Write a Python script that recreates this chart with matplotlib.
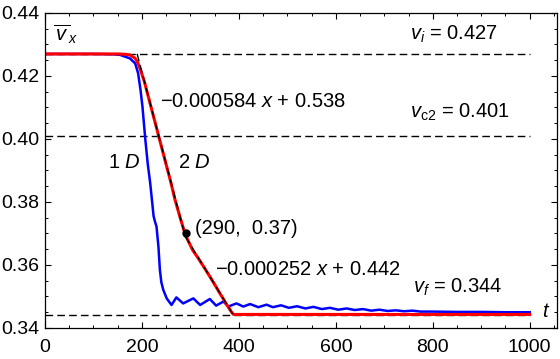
import numpy as np
import matplotlib
matplotlib.use("Agg")
import matplotlib.pyplot as plt
from matplotlib.ticker import MultipleLocator, FormatStrFormatter

plt.rcParams['font.family'] = ['Liberation Sans', 'DejaVu Sans']
plt.rcParams['mathtext.fontset'] = 'custom'
plt.rcParams['mathtext.rm'] = 'Liberation Sans'
plt.rcParams['mathtext.it'] = 'Liberation Sans:italic'
plt.rcParams['mathtext.bf'] = 'Liberation Sans:bold'

# 1D curve (blue)
t_1d = [0, 100, 140, 155, 175, 186, 192, 197, 201, 204, 207, 212, 217, 221, 224, 227,
        230, 234, 237, 240, 244, 251,
        261, 271, 285, 306, 320, 340, 353, 368, 378, 395, 409, 423, 440, 457, 470,
        487, 503, 520, 537, 554, 571, 588, 605, 622, 639, 656, 673, 690, 707, 724,
        741, 758, 775, 800, 850, 900, 950, 1000]
v_1d = [0.427, 0.427, 0.4269, 0.4267, 0.4256, 0.4240, 0.4209, 0.4156, 0.4103, 0.405,
        0.3997, 0.392, 0.386, 0.380, 0.3755, 0.3737, 0.3722, 0.3658, 0.3584, 0.3545,
        0.3521, 0.3494,
        0.3473, 0.3497, 0.3478, 0.3494, 0.3473, 0.3492, 0.3471, 0.3484, 0.3468, 0.3478,
        0.3468, 0.3476, 0.3466, 0.3474, 0.3466,
        0.3472, 0.3464, 0.3469, 0.3462, 0.3467, 0.3460, 0.3464, 0.3458, 0.3462, 0.3457,
        0.3460, 0.3455, 0.3458, 0.3454, 0.3456, 0.3453, 0.3455, 0.3452,
        0.3452, 0.3451, 0.3451, 0.3450, 0.3450]

# 2D curve (red)
t_2d = [0, 150, 165, 175, 186, 192, 197, 205, 220, 240, 260, 268, 280, 290, 300, 305,
        315, 330, 345, 360, 375, 385, 389, 400, 500, 700, 1000]
v_2d = [0.427, 0.427, 0.4269, 0.4267, 0.4256, 0.4240, 0.4219, 0.4182, 0.4094, 0.3977,
        0.3860, 0.3808, 0.3744, 0.3694, 0.3662, 0.3646, 0.3624, 0.3588, 0.3551, 0.3512,
        0.3474, 0.3450, 0.3443, 0.3443, 0.3443, 0.3443, 0.3443]

# reference levels
v_i, v_c2, v_f = 0.427, 0.401, 0.344
# linear fits: (slope, intercept, t_start, t_end)
fit1 = (-0.000584, 0.538, 190, 290)
fit2 = (-0.000252, 0.442, 290, 389)
point = (290, 0.37)

fig = plt.figure(figsize=(5.6, 3.59), dpi=100)
ax = fig.add_axes([0.0804, 0.0864, 0.914, 0.8774])

dash = (5.5, 3)
for lev in (v_i, v_c2, v_f):
    ax.plot([0, 1000], [lev, lev], color='black', lw=1.0, dashes=dash)

ax.plot(t_1d, v_1d, color='#0000ff', lw=1.8)
ax.plot(t_2d, v_2d, color='#ff0000', lw=2.2)

for k, b, ta, tb in (fit1, fit2):
    tt = np.array([ta, tb])
    ax.plot(tt, k * tt + b, color='black', lw=1.0, dashes=dash)

ax.plot(*point, 'o', color='black', ms=5)

fs = 14.5
ax.text(16.5, 0.4312, r'$\overline{\,v\,}_{x}$', fontsize=fs, va='baseline')
ax.text(753, 0.4314, r'$v_i$ = 0.427', fontsize=fs, va='baseline')
ax.text(237, 0.4102, '\u22120.000584 $x$ + 0.538', fontsize=fs, va='baseline')
ax.text(753, 0.4068, r'$v_{\mathrm{c}2}$ = 0.401', fontsize=fs, va='baseline')
ax.text(130, 0.3908, r'1 $D$', fontsize=fs, va='baseline')
ax.text(274, 0.3908, r'2 $D$', fontsize=fs, va='baseline')
ax.text(309, 0.3698, '(290,  0.37)', fontsize=fs, va='baseline')
ax.text(350, 0.3568, '\u22120.000252 $x$ + 0.442', fontsize=fs, va='baseline')
ax.text(759, 0.3511, r'$v_f$ = 0.344', fontsize=fs, va='baseline')
ax.text(1025, 0.3435, r'$t$', fontsize=fs, va='baseline')

ax.set_xlim(0, 1056)
ax.set_ylim(0.34, 0.44)
ax.xaxis.set_major_locator(MultipleLocator(200))
ax.xaxis.set_minor_locator(MultipleLocator(50))
ax.yaxis.set_major_locator(MultipleLocator(0.02))
ax.yaxis.set_minor_locator(MultipleLocator(0.005))
ax.yaxis.set_major_formatter(FormatStrFormatter('%.2f'))
ax.tick_params(which='both', direction='in', top=True, right=True, labelsize=14)
ax.tick_params(which='major', length=4, width=0.8, pad=4)
ax.tick_params(which='minor', length=2.2, width=0.7)
ax.tick_params(axis='x', which='major', pad=8)
for s in ax.spines.values():
    s.set_linewidth(0.9)

fig.savefig('out.png', dpi=100)
